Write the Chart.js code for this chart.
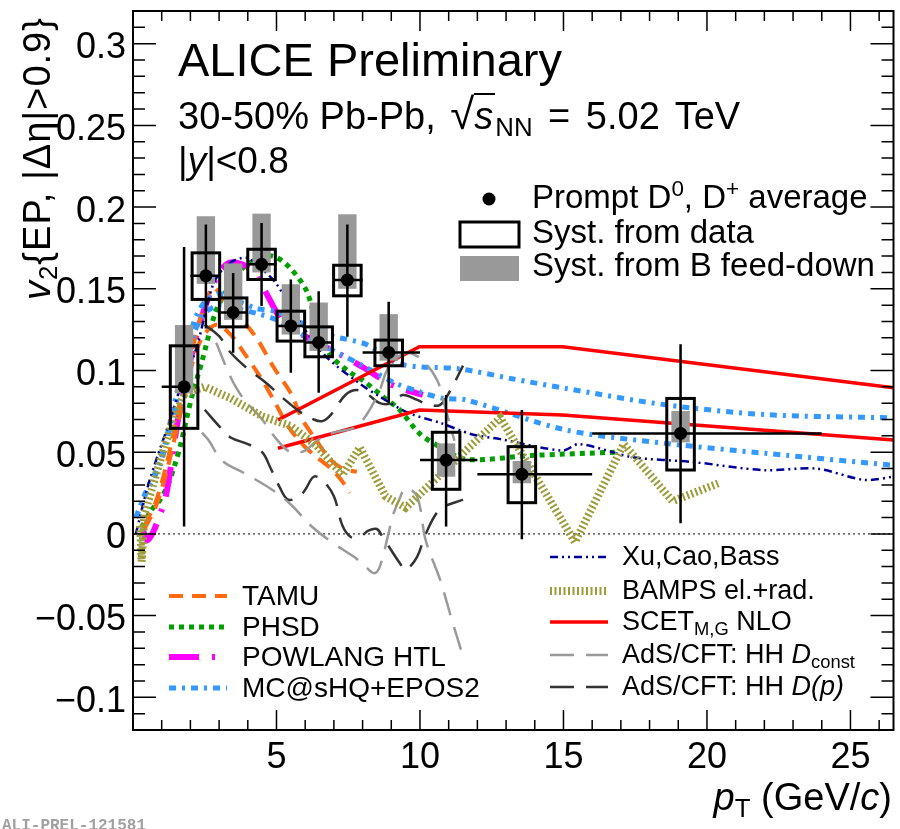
<!DOCTYPE html>
<html>
<head>
<meta charset="utf-8">
<script src="https://cdn.jsdelivr.net/npm/chart.js@4.4.1/dist/chart.umd.min.js"></script>
<style>
    body { margin: 0; background: #fff; }
    #wrap { position: relative; width: 900px; height: 829px; overflow: hidden; font-family: "Liberation Sans", Arial, sans-serif; }
    #wrap canvas { position: absolute; left: 0; top: 0; }
    .t { position: absolute; white-space: nowrap; line-height: 1; color: #000; }
    .t sub { font-size: 0.68em; vertical-align: -0.28em; line-height: 0; }
    .t sup { font-size: 0.68em; vertical-align: 0.55em; line-height: 0; }
</style>
</head>
<body>
<div id="wrap"><canvas id="chart" width="900" height="829"></canvas></div>
<script>
// --- DATA ---
const xMin = 0, xMax = 26.5, yMin = -0.12, yMax = 0.32;

const xTicks = [5, 10, 15, 20, 25];
const xTickLabels = ['5', '10', '15', '20', '25'];
const yTicks = [0.3, 0.25, 0.2, 0.15, 0.1, 0.05, 0, -0.05, -0.1];
const yTickLabels = ['0.3', '0.25', '0.2', '0.15', '0.1', '0.05', '0', '\u22120.05', '\u22120.1'];

// prompt D0, D+ average
const ptCenter = [1.78, 2.54, 3.49, 4.48, 5.50, 6.47, 7.47, 8.91, 10.91, 13.55, 19.08];
const ptLow    = [1, 2, 3, 4, 5, 6, 7, 8, 10, 12, 16];
const ptHigh   = [2, 3, 4, 5, 6, 7, 8, 10, 12, 16, 24];
const v2       = [0.090, 0.158, 0.1355, 0.165, 0.1273, 0.1172, 0.1554, 0.111, 0.0452, 0.0365, 0.0615];
const statHi   = [0.1756, 0.1893, 0.1597, 0.1903, 0.1557, 0.1485, 0.1893, 0.142, 0.085, 0.0758, 0.116];
const statLo   = [0.0045, 0.1257, 0.1108, 0.1394, 0.0986, 0.0864, 0.1206, 0.0799, 0.0045, -0.0032, 0.0065];
const systHi   = [0.1151, 0.172, 0.1444, 0.1742, 0.1363, 0.1267, 0.1644, 0.1186, 0.0622, 0.0534, 0.0829];
const systLo   = [0.0646, 0.1435, 0.1267, 0.1557, 0.118, 0.1084, 0.1457, 0.1029, 0.0273, 0.0191, 0.0391];
const fdHi     = [0.1278, 0.1944, 0.1655, 0.196, 0.1528, 0.1416, 0.1956, 0.1345, 0.0554, 0.0446, 0.0752];
const fdLo     = [0.086, 0.153, 0.131, 0.160, 0.122, 0.112, 0.150, 0.106, 0.035, 0.031, 0.056];

// models
const tamuHiX = [0.4, 0.8, 1.2, 1.6, 2.0, 2.4, 2.8, 3.2, 3.7, 4.3, 4.9, 5.5, 5.9, 6.4, 6.85, 7.3, 7.8];
const tamuHiY = [0.005, 0.02, 0.045, 0.078, 0.108, 0.135, 0.151, 0.142, 0.133, 0.12, 0.102, 0.086, 0.07, 0.057, 0.046, 0.04, 0.038];
const tamuLoX = [0.4, 0.8, 1.2, 1.6, 2.0, 2.4, 2.9, 3.4, 3.9, 4.4, 4.9, 5.4, 5.9, 6.4, 6.9, 7.3, 7.55];
const tamuLoY = [0.003, 0.017, 0.04, 0.07, 0.1, 0.12, 0.128, 0.122, 0.11, 0.097, 0.082, 0.066, 0.055, 0.047, 0.04, 0.032, 0.025];

const phsdX = [0.3, 0.66, 0.95, 1.24, 1.47, 1.65, 2.05, 2.41, 2.86, 3.26, 3.72, 4.3, 4.88, 5.46, 6.04, 6.39, 6.85, 7.55, 8.01, 8.71, 9.29, 9.98, 10.68, 11.61, 13.9, 16.8];
const phsdY = [0.004, 0.015, 0.021, 0.031, 0.043, 0.054, 0.084, 0.106, 0.135, 0.149, 0.161, 0.168, 0.17, 0.163, 0.149, 0.129, 0.11, 0.099, 0.094, 0.084, 0.076, 0.0615, 0.0534, 0.0456, 0.048, 0.05];

const powlangX = [0.35, 0.5, 0.7, 0.9, 1.12, 1.3, 1.59, 2.17, 2.63, 3.0, 3.37, 3.8, 4.18, 4.53, 5.23, 5.58, 6.3, 7.09, 8.01, 9.05, 10.1];
const powlangY = [0.002, -0.004, 0.001, 0.01, 0.021, 0.039, 0.072, 0.119, 0.145, 0.16, 0.166, 0.165, 0.161, 0.151, 0.129, 0.125, 0.118, 0.111, 0.102, 0.091, 0.085];

const mcHiX = [0.1, 0.43, 0.95, 1.47, 2.11, 2.5, 3.0, 3.6, 4.3, 5.0, 6.0, 6.97, 8.13, 9.29, 11.37, 13.2, 15.08, 18.56, 22.04, 26.5];
const mcHiY = [0.01, 0.025, 0.045, 0.082, 0.129, 0.142, 0.147, 0.143, 0.138, 0.136, 0.128, 0.121, 0.116, 0.104, 0.101, 0.095, 0.089, 0.079, 0.073, 0.071];
const mcLoX = [0.1, 0.43, 0.95, 1.47, 2.11, 2.5, 3.0, 3.6, 4.3, 5.0, 6.0, 7.0, 8.0, 9.17, 9.98, 10.8, 11.6, 15.08, 18.56, 22.04, 26.5];
const mcLoY = [0.01, 0.024, 0.043, 0.078, 0.122, 0.135, 0.14, 0.138, 0.135, 0.131, 0.121, 0.112, 0.103, 0.092, 0.087, 0.083, 0.082, 0.0636, 0.0554, 0.0493, 0.042];

const xuX = [0.1, 0.5, 0.9, 1.3, 1.7, 2.2, 2.8, 3.3, 3.95, 4.5, 5.0, 5.8, 6.7, 7.9, 8.6, 9.6, 10.7, 11.8, 12.8, 14.97, 15.55, 17.4, 19.5, 22.0, 23.8, 25.5, 26.5];
const xuY = [0.0, 0.028, 0.05, 0.07, 0.092, 0.113, 0.153, 0.165, 0.169, 0.162, 0.153, 0.13, 0.109, 0.092, 0.084, 0.074, 0.068, 0.061, 0.058, 0.051, 0.055, 0.047, 0.044, 0.039, 0.04, 0.033, 0.035];

const bampsX = [0.25, 0.3, 0.4, 0.7, 1.0, 1.4, 1.8, 2.5, 3.4, 4.5, 5.5, 6.4, 7.3, 7.9, 8.8, 9.5, 12.8, 15.4, 17.1, 18.8, 20.4];
const bampsY = [0.005, -0.017, 0.012, 0.03, 0.048, 0.07, 0.086, 0.09, 0.083, 0.072, 0.066, 0.054, 0.036, 0.053, 0.023, 0.016, 0.071, -0.005, 0.055, 0.02, 0.031];

const scetHiX = [5.05, 9.98, 14.97, 26.5];
const scetHiY = [0.0697, 0.1145, 0.1145, 0.0895];
const scetLoX = [5.05, 9.98, 14.97, 26.5];
const scetLoY = [0.0524, 0.0758, 0.0727, 0.0575];

const adsConstAX = [2.9, 3.4, 3.8, 4.5, 5.0, 5.5, 6.0, 6.4, 7.0, 7.8, 8.5, 8.9, 9.3, 9.6, 10.1, 10.6, 10.9, 11.2];
const adsConstAY = [0.117, 0.096, 0.084, 0.07, 0.058, 0.05, 0.051, 0.057, 0.062, 0.066, 0.084, 0.102, 0.109, 0.111, 0.106, 0.094, 0.076, 0.057];
const adsConstBX = [2.4, 2.63, 3.1, 3.9, 4.85, 5.5, 6.2, 7.0, 7.7, 8.1, 8.4, 8.6, 8.9, 9.05, 9.3, 9.5, 9.9, 10.2, 10.7, 11.1, 11.5];
const adsConstBY = [0.062, 0.0575, 0.045, 0.037, 0.027, 0.018, 0.005, -0.006, -0.014, -0.02, -0.024, -0.02, 0.0, 0.011, 0.022, 0.028, 0.023, -0.004, -0.028, -0.052, -0.075];

const adsDpAX = [2.5, 3.0, 3.4, 4.0, 4.6, 5.3, 5.8, 6.3, 6.6, 6.9, 7.4, 7.8, 8.2, 8.6, 9.0, 9.4, 9.9, 10.3, 10.7, 11.0, 11.5];
const adsDpAY = [0.128, 0.121, 0.111, 0.101, 0.093, 0.082, 0.075, 0.07, 0.069, 0.073, 0.085, 0.088, 0.085, 0.08, 0.08, 0.085, 0.082, 0.079, 0.079, 0.086, 0.103];
const adsDpBX = [2.5, 3.0, 3.4, 4.0, 4.5, 4.8, 5.1, 5.4, 5.8, 6.0, 6.3, 6.6, 7.0, 7.3, 7.6, 7.9, 8.2, 8.5, 8.7, 9.0, 9.3, 9.5, 9.9, 10.2, 10.7, 11.5];
const adsDpBY = [0.076, 0.066, 0.059, 0.055, 0.05, 0.04, 0.029, 0.021, 0.023, 0.027, 0.035, 0.033, 0.023, 0.005, -0.002, -0.002, 0.002, 0.003, -0.002, -0.01, -0.018, -0.022, -0.014, 0.0, 0.015, 0.021];

// --- STYLES ---
const STY = {
    tamu:    { color: '#ff6a10', width: 4,   dash: [14, 9] },
    phsd:    { color: '#00a000', width: 5,   dash: [5, 5] },
    powlang: { color: '#ff00ff', width: 6,   dash: [30, 13, 3, 13] },
    mc:      { color: '#3399ff', width: 5,   dash: [7, 6, 3, 6] },
    xu:      { color: '#000099', width: 2.5, dash: [8, 4, 2, 4, 2, 4] },
    bamps:   { color: '#9c9c3a', width: 8,   dash: [2, 2.5] },
    scet:    { color: '#ff0000', width: 3.5, dash: [] },
    adsC:    { color: '#9a9a9a', width: 2.5, dash: [24, 12] },
    adsD:    { color: '#333333', width: 2.5, dash: [24, 12] }
};

const pts = (xs, ys) => xs.map((v, i) => ({ x: v, y: ys[i] }));

function curve(xs, ys, s, tension) {
    return {
        data: pts(xs, ys), showLine: true, pointRadius: 0, fill: false, order: 1,
        borderColor: s.color, borderWidth: s.width, borderDash: s.dash,
        tension: tension, borderCapStyle: 'butt'
    };
}

// --- PLUGINS ---
const dataMarks = {
    id: 'dataMarks',
    beforeDatasetDraw(chart, args) {
        if (args.index !== 0) return;
        const { ctx, scales: { x, y } } = chart;
        ctx.save();
        ctx.fillStyle = '#999999';
        ptCenter.forEach((c, i) => {
            const x0 = x.getPixelForValue(c - 0.32), x1 = x.getPixelForValue(c + 0.32);
            const y0 = y.getPixelForValue(fdHi[i]), y1 = y.getPixelForValue(fdLo[i]);
            ctx.fillRect(x0, y0, x1 - x0, y1 - y0);
        });
        ctx.strokeStyle = '#000';
        ctx.lineWidth = 3;
        ptCenter.forEach((c, i) => {
            const x0 = x.getPixelForValue(c - 0.48), x1 = x.getPixelForValue(c + 0.48);
            const y0 = y.getPixelForValue(systHi[i]), y1 = y.getPixelForValue(systLo[i]);
            ctx.strokeRect(x0, y0, x1 - x0, y1 - y0);
        });
        ctx.lineWidth = 2.5;
        ptCenter.forEach((c, i) => {
            const px = x.getPixelForValue(c), py = y.getPixelForValue(v2[i]);
            ctx.beginPath();
            ctx.moveTo(px, y.getPixelForValue(statHi[i]));
            ctx.lineTo(px, y.getPixelForValue(statLo[i]));
            ctx.moveTo(x.getPixelForValue(ptLow[i]), py);
            ctx.lineTo(x.getPixelForValue(ptHigh[i]), py);
            ctx.stroke();
        });
        ctx.restore();
    }
};

const frame = {
    id: 'frame',
    afterDraw(chart) {
        const { ctx, chartArea: a, scales: { x, y } } = chart;
        ctx.save();
        ctx.strokeStyle = '#000';
        ctx.lineWidth = 2;
        ctx.setLineDash([]);
        ctx.strokeRect(a.left, a.top, a.right - a.left, a.bottom - a.top);
        ctx.lineWidth = 1.5;
        ctx.beginPath();
        for (let k = -12; k <= 32; k++) {
            const py = y.getPixelForValue(k / 100);
            if (py <= a.top + 1 || py >= a.bottom - 1) continue;
            const len = (k % 5 === 0) ? 23 : 12;
            ctx.moveTo(a.left, py); ctx.lineTo(a.left + len, py);
            ctx.moveTo(a.right, py); ctx.lineTo(a.right - len, py);
        }
        for (let k = 1; k <= 26; k++) {
            const px = x.getPixelForValue(k);
            const len = (k % 5 === 0) ? 20 : 10;
            ctx.moveTo(px, a.bottom); ctx.lineTo(px, a.bottom - len);
            ctx.moveTo(px, a.top); ctx.lineTo(px, a.top + len);
        }
        ctx.stroke();

        // legend samples
        const sample = (s, x0, x1, yy) => {
            ctx.strokeStyle = s.color; ctx.lineWidth = s.width; ctx.setLineDash(s.dash);
            ctx.lineCap = 'butt';
            ctx.beginPath(); ctx.moveTo(x0, yy); ctx.lineTo(x1, yy); ctx.stroke();
        };
        sample(STY.tamu, 169, 227, 596);
        sample(STY.phsd, 169, 227, 627);
        sample(STY.powlang, 169, 227, 657);
        sample(STY.mc, 169, 227, 688);
        sample(STY.xu, 550, 608, 557);
        sample(STY.bamps, 550, 608, 591);
        sample(STY.scet, 550, 608, 622);
        sample(STY.adsC, 550, 608, 655);
        sample(STY.adsD, 550, 608, 687);

        ctx.setLineDash([]);
        ctx.fillStyle = '#000';
        ctx.beginPath(); ctx.arc(489, 199, 6.5, 0, Math.PI * 2); ctx.fill();
        ctx.strokeStyle = '#000'; ctx.lineWidth = 3;
        ctx.strokeRect(460, 222, 59, 25);
        ctx.fillStyle = '#999999';
        ctx.fillRect(460, 256, 59, 25);
        ctx.restore();
    }
};

// --- CHART ---
const chart = new Chart(document.getElementById('chart'), {
    type: 'scatter',
    data: {
        datasets: [
            { data: pts(ptCenter, v2), pointRadius: 6.5, pointBackgroundColor: '#000', pointBorderWidth: 0, showLine: false, order: 0 },
            curve(bampsX, bampsY, STY.bamps, 0),
            curve(adsConstAX, adsConstAY, STY.adsC, 0.35),
            curve(adsConstBX, adsConstBY, STY.adsC, 0.35),
            curve(adsDpAX, adsDpAY, STY.adsD, 0.35),
            curve(adsDpBX, adsDpBY, STY.adsD, 0.35),
            curve(scetHiX, scetHiY, STY.scet, 0),
            curve(scetLoX, scetLoY, STY.scet, 0),
            curve(xuX, xuY, STY.xu, 0.3),
            curve(mcHiX, mcHiY, STY.mc, 0.3),
            curve(mcLoX, mcLoY, STY.mc, 0.3),
            curve(tamuHiX, tamuHiY, STY.tamu, 0.3),
            curve(tamuLoX, tamuLoY, STY.tamu, 0.3),
            curve(powlangX, powlangY, STY.powlang, 0.3),
            curve(phsdX, phsdY, STY.phsd, 0.3),
            { data: [{ x: xMin, y: 0 }, { x: xMax, y: 0 }], showLine: true, pointRadius: 0, borderColor: '#000', borderWidth: 1, borderDash: [2, 3], order: 2 }
        ]
    },
    options: {
        responsive: false,
        animation: false,
        layout: { padding: { top: 11, right: 6, left: 0, bottom: 0 } },
        plugins: { legend: { display: false }, tooltip: { enabled: false } },
        scales: {
            x: { type: 'linear', min: xMin, max: xMax, grid: { display: false }, border: { display: false },
                 ticks: { display: false }, afterFit: s => { s.height = 99; } },
            y: { type: 'linear', min: yMin, max: yMax, grid: { display: false }, border: { display: false },
                 ticks: { display: false }, afterFit: s => { s.width = 133; } }
        }
    },
    plugins: [dataMarks, frame]
});

// --- TEXT ---
const wrap = document.getElementById('wrap');
function addText(html, x, base, size, align) {
    const d = document.createElement('div');
    d.className = 't';
    d.innerHTML = html;
    d.style.fontSize = size + 'px';
    d.style.top = (base - 0.8465 * size) + 'px';
    if (align === 'right') d.style.right = (900 - x) + 'px';
    else if (align === 'center') { d.style.left = x + 'px'; d.style.transform = 'translateX(-50%)'; }
    else d.style.left = x + 'px';
    wrap.appendChild(d);
    return d;
}

xTicks.forEach((v, i) => addText(xTickLabels[i], chart.scales.x.getPixelForValue(v), 768, 36, 'center'));
yTicks.forEach((v, i) => addText(yTickLabels[i], 126, chart.scales.y.getPixelForValue(v) + 15, 36, 'right'));

addText('ALICE Preliminary', 178, 76, 47);
addText('30-50% Pb-Pb, <span style="font-size:1.15em;margin-left:4px;">\u221A</span><span style="border-top:2px solid #000;font-style:italic;padding-right:2px;">s</span><sub>NN</sub>'
    + '<span style="word-spacing:5px;"> = 5.02 TeV</span>', 178, 124, 38);
addText('|<i>y</i>|&lt;0.8', 178, 173, 37);

addText('Prompt D<sup>0</sup>, D<sup>+</sup> average', 532, 208, 33);
addText('Syst. from data', 532, 243, 33);
addText('Syst. from B feed-down', 532, 276, 33);

addText('TAMU', 242, 606, 28);
addText('PHSD', 242, 637, 28);
addText('POWLANG HTL', 242, 667, 28);
addText('MC@sHQ+EPOS2', 242, 698, 28);

addText('Xu,Cao,Bass', 622, 566, 27);
addText('BAMPS el.+rad.', 622, 600, 27);
addText('SCET<sub>M,G</sub> NLO', 622, 631, 27);
addText('AdS/CFT: HH <i>D</i><sub>const</sub>', 622, 664, 27);
addText('AdS/CFT: HH <i>D(p)</i>', 622, 696, 27);

addText('<i>p</i><sub>T</sub> (GeV/<i>c</i>)', 892, 810, 38, 'right');

const yTitle = addText('<i>v</i><sub>2</sub>{EP, |\u0394\u03B7|&gt;0.9}', 18, 0, 38);
yTitle.style.top = '300px';
yTitle.style.letterSpacing = '1px';
yTitle.style.transformOrigin = '0 0';
yTitle.style.transform = 'rotate(-90deg)';

const prel = addText('ALI-PREL-121581', 2, 832, 16);
prel.style.color = '#a0a0a0';
prel.style.fontFamily = '"Liberation Mono", monospace';
prel.style.fontWeight = 'bold';
</script>
</body>
</html>
